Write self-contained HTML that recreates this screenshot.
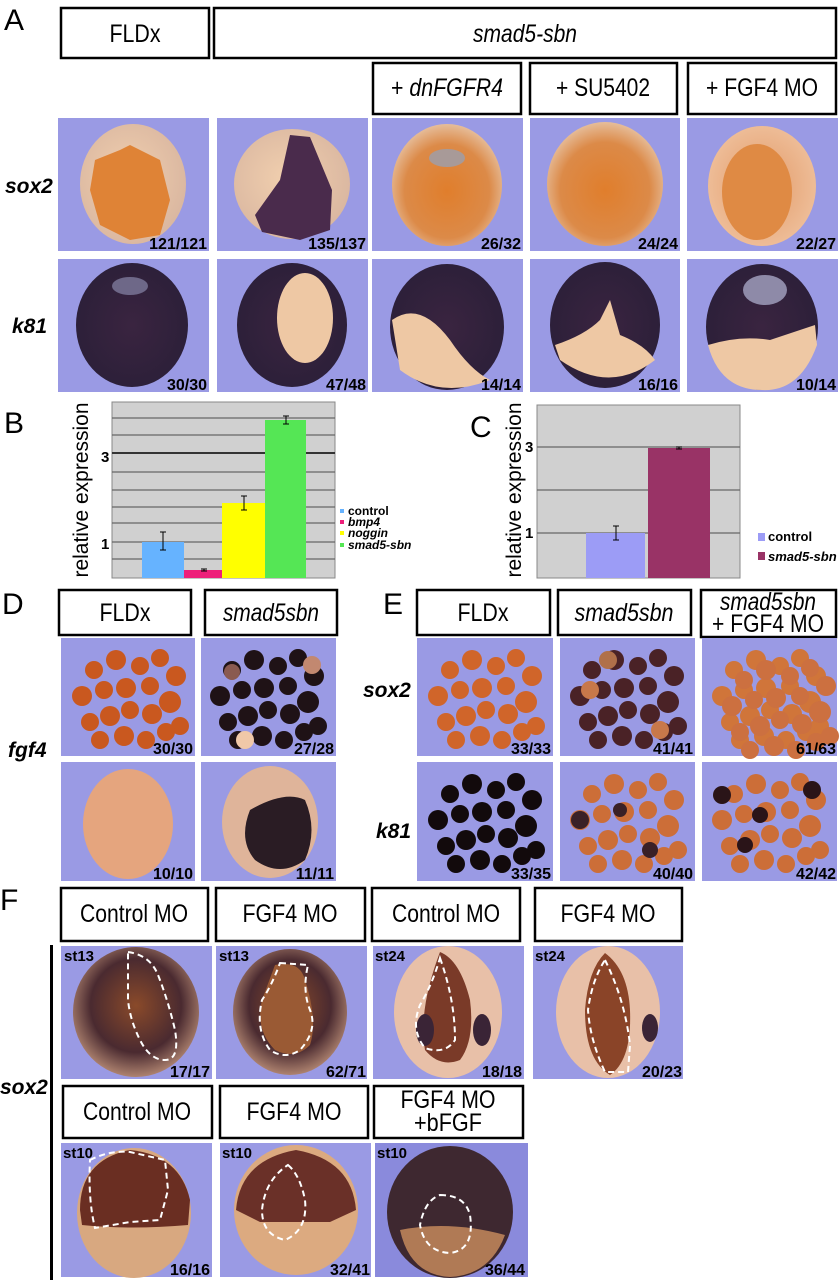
<!DOCTYPE html>
<html><head><meta charset="utf-8"><style>
html,body{margin:0;padding:0;background:#fff;}
svg{display:block;}
text{font-family:"Liberation Sans",sans-serif;fill:#000;}
.bx{fill:#fff;stroke:#000;stroke-width:2.5;}
.bt{font-size:25px;text-anchor:middle;}
.ph{fill:#9a9ae4;}
.ct{font-size:16px;font-weight:bold;text-anchor:end;}
.gn{font-size:21px;font-weight:bold;font-style:italic;}
.pl{font-family:"Liberation Sans",sans-serif;font-size:30px;}
.st{font-size:15px;font-weight:bold;}
.gl{stroke:#666;stroke-width:1.2;}
.eb{stroke:#000;stroke-width:1;fill:none;}
.dash{fill:none;stroke:#fff;stroke-width:2;stroke-dasharray:6 4;}
</style></head><body>
<svg width="840" height="1280" viewBox="0 0 840 1280" xmlns="http://www.w3.org/2000/svg">
<defs>
<radialGradient id="gOr" cx="0.5" cy="0.55" r="0.55"><stop offset="0" stop-color="#e07e2c"/><stop offset="0.7" stop-color="#dc8a48"/><stop offset="1" stop-color="#e6bd9a"/></radialGradient>
<radialGradient id="gTan" cx="0.45" cy="0.45" r="0.6"><stop offset="0" stop-color="#f1cfae"/><stop offset="1" stop-color="#d9b6a0"/></radialGradient>
<radialGradient id="gDk" cx="0.5" cy="0.5" r="0.6"><stop offset="0" stop-color="#3a2440"/><stop offset="1" stop-color="#2a1f38"/></radialGradient>
<radialGradient id="gBr" cx="0.5" cy="0.45" r="0.6"><stop offset="0" stop-color="#8a4a2a"/><stop offset="0.6" stop-color="#4a2a30"/><stop offset="1" stop-color="#c89a80"/></radialGradient>
<radialGradient id="gPe" cx="0.5" cy="0.5" r="0.6"><stop offset="0" stop-color="#e29a68"/><stop offset="1" stop-color="#f0c3a0"/></radialGradient>
<g id="cl">
<circle cx="30" cy="30" r="9"/><circle cx="52" cy="20" r="10"/><circle cx="76" cy="26" r="9"/><circle cx="96" cy="18" r="9"/><circle cx="112" cy="36" r="10"/><circle cx="18" cy="56" r="10"/><circle cx="40" cy="50" r="9"/><circle cx="62" cy="48" r="10"/><circle cx="86" cy="46" r="9"/><circle cx="106" cy="62" r="11"/><circle cx="26" cy="82" r="9"/><circle cx="46" cy="76" r="10"/><circle cx="66" cy="70" r="9"/><circle cx="88" cy="74" r="10"/><circle cx="116" cy="86" r="9"/><circle cx="36" cy="100" r="9"/><circle cx="60" cy="96" r="10"/><circle cx="82" cy="100" r="9"/><circle cx="102" cy="92" r="9"/>
</g>
</defs>

<!-- Panel A -->
<text x="4" y="30" class="pl">A</text>
<rect x="61" y="8" width="148" height="50" class="bx"/><text x="135" y="42" class="bt" textLength="51" lengthAdjust="spacingAndGlyphs">FLDx</text>
<rect x="214" y="8" width="622" height="50" class="bx"/><text x="525" y="42" class="bt" font-style="italic" textLength="104" lengthAdjust="spacingAndGlyphs">smad5-sbn</text>
<rect x="373" y="63" width="148" height="51" class="bx"/><text x="447" y="96" class="bt" textLength="112" lengthAdjust="spacingAndGlyphs">+ <tspan font-style="italic">dnFGFR4</tspan></text>
<rect x="530" y="63" width="147" height="51" class="bx"/><text x="603" y="96" class="bt" textLength="94" lengthAdjust="spacingAndGlyphs">+ SU5402</text>
<rect x="688" y="63" width="148" height="51" class="bx"/><text x="762" y="96" class="bt" textLength="112" lengthAdjust="spacingAndGlyphs">+ FGF4 MO</text>
<text x="5" y="193" class="gn">sox2</text>
<text x="12" y="333" class="gn">k81</text>

<!-- row1 -->
<rect x="58" y="118" width="151" height="133" class="ph"/>
<ellipse cx="133" cy="184" rx="53" ry="60" fill="url(#gTan)"/>
<path d="M95,160 L120,150 L130,145 L160,160 L170,200 L160,235 L130,240 L100,225 L90,190Z" fill="#df8336"/>
<rect x="217" y="118" width="151" height="133" class="ph"/>
<ellipse cx="292" cy="184" rx="58" ry="55" fill="url(#gTan)"/>
<path d="M290,135 L310,137 L332,190 L330,230 L300,240 L262,232 L255,215 L280,180Z" fill="#4a2b4c"/>
<rect x="372" y="118" width="151" height="133" class="ph"/>
<ellipse cx="447" cy="185" rx="55" ry="61" fill="url(#gOr)"/>
<ellipse cx="447" cy="158" rx="18" ry="9" fill="#a89a98"/>
<rect x="530" y="118" width="150" height="133" class="ph"/>
<ellipse cx="605" cy="184" rx="58" ry="62" fill="url(#gOr)"/>
<rect x="687" y="118" width="151" height="133" class="ph"/>
<ellipse cx="762" cy="186" rx="54" ry="60" fill="url(#gPe)"/>
<ellipse cx="757" cy="192" rx="35" ry="48" fill="#df8a44"/>
<text x="207" y="249" class="ct">121/121</text><text x="366" y="249" class="ct">135/137</text><text x="521" y="249" class="ct">26/32</text><text x="678" y="249" class="ct">24/24</text><text x="836" y="249" class="ct">22/27</text>

<!-- row2 -->
<rect x="58" y="259" width="151" height="133" class="ph"/>
<ellipse cx="132" cy="325" rx="56" ry="62" fill="url(#gDk)"/>
<ellipse cx="130" cy="286" rx="18" ry="9" fill="#6e6888"/>
<rect x="217" y="259" width="151" height="133" class="ph"/>
<ellipse cx="292" cy="325" rx="55" ry="62" fill="url(#gDk)"/>
<ellipse cx="305" cy="318" rx="28" ry="45" fill="#eec8a4"/>
<rect x="372" y="259" width="151" height="133" class="ph"/>
<ellipse cx="447" cy="327" rx="57" ry="63" fill="url(#gDk)"/>
<path d="M392,320 Q420,300 450,340 Q470,370 490,380 Q440,400 400,370Z" fill="#eec8a4"/>
<rect x="530" y="259" width="150" height="133" class="ph"/>
<ellipse cx="605" cy="325" rx="55" ry="63" fill="url(#gDk)"/>
<path d="M555,345 Q585,335 600,320 L610,300 L620,335 Q645,345 655,360 Q610,395 560,360Z" fill="#eec8a4"/>
<rect x="687" y="259" width="151" height="133" class="ph"/>
<ellipse cx="762" cy="327" rx="56" ry="63" fill="url(#gDk)"/>
<path d="M708,345 Q740,335 770,340 L815,325 L817,345 Q800,392 762,390 Q720,390 708,345Z" fill="#eec8a4"/>
<ellipse cx="765" cy="290" rx="22" ry="15" fill="#8e8aa8"/>
<text x="207" y="390" class="ct">30/30</text><text x="366" y="390" class="ct">47/48</text><text x="521" y="390" class="ct">14/14</text><text x="678" y="390" class="ct">16/16</text><text x="836" y="390" class="ct">10/14</text>

<!-- Panel B -->
<text x="4" y="433" class="pl">B</text>
<rect x="112" y="402" width="223" height="176" fill="#d0d0d0" stroke="#888"/>
<g class="gl"><line x1="112" y1="418" x2="335" y2="418"/><line x1="112" y1="435" x2="335" y2="435"/><line x1="112" y1="472" x2="335" y2="472"/><line x1="112" y1="490" x2="335" y2="490"/><line x1="112" y1="507" x2="335" y2="507"/><line x1="112" y1="523" x2="335" y2="523"/><line x1="112" y1="542" x2="335" y2="542"/><line x1="112" y1="559" x2="335" y2="559"/></g>
<line x1="112" y1="453" x2="335" y2="453" stroke="#333" stroke-width="2"/>
<rect x="142" y="542" width="42" height="36" fill="#66b3ff"/>
<rect x="184" y="570" width="38" height="8" fill="#ee1f7a"/>
<rect x="222" y="503" width="43" height="75" fill="#ffff00"/>
<rect x="265" y="420" width="41" height="158" fill="#55e655"/>
<g class="eb"><path d="M163,532 V550 M160,532 h6 M160,550 h6"/><path d="M204,569 V571 M201,569 h6 M201,571 h6"/><path d="M244,496 V510 M241,496 h6 M241,510 h6"/><path d="M286,416 V424 M283,416 h6 M283,424 h6"/></g>
<text x="101" y="462" font-size="15" font-weight="bold">3</text>
<text x="101" y="549" font-size="15" font-weight="bold">1</text>
<text transform="translate(88,490) rotate(-90)" font-size="21" text-anchor="middle" fill="#222">relative expression</text>
<rect x="340" y="509" width="4" height="4" fill="#66b3ff"/><rect x="340" y="520" width="4" height="4" fill="#ee1f7a"/><rect x="340" y="531" width="4" height="4" fill="#ffff00"/><rect x="340" y="543" width="4" height="4" fill="#55e655"/>
<g font-size="12" font-weight="bold"><text x="348" y="515">control</text><text x="348" y="526" font-style="italic">bmp4</text><text x="348" y="537" font-style="italic">noggin</text><text x="348" y="549" font-style="italic">smad5-sbn</text></g>

<!-- Panel C -->
<text x="470" y="437" class="pl">C</text>
<rect x="537" y="405" width="203" height="173" fill="#d0d0d0" stroke="#888"/>
<g class="gl"><line x1="537" y1="447" x2="740" y2="447"/><line x1="537" y1="490" x2="740" y2="490"/><line x1="537" y1="533" x2="740" y2="533"/></g>
<rect x="586" y="533" width="59" height="45" fill="#9c9cf6"/>
<rect x="648" y="448" width="62" height="130" fill="#993366"/>
<g class="eb"><path d="M616,526 V540 M613,526 h6 M613,540 h6"/><path d="M679,447 V449 M676,447 h6 M676,449 h6"/></g>
<text x="525" y="452" font-size="15" font-weight="bold">3</text>
<text x="525" y="538" font-size="15" font-weight="bold">1</text>
<text transform="translate(521,490) rotate(-90)" font-size="21" text-anchor="middle" fill="#222">relative expression</text>
<rect x="758" y="533" width="7" height="8" fill="#9c9cf6"/><rect x="758" y="552" width="7" height="8" fill="#993366"/>
<g font-size="13" font-weight="bold"><text x="768" y="541">control</text><text x="768" y="561" font-style="italic">smad5-sbn</text></g>

<!-- Panel D -->
<text x="2" y="614" class="pl">D</text>
<rect x="59" y="590" width="132" height="45" class="bx"/><text x="125" y="621" class="bt" textLength="51" lengthAdjust="spacingAndGlyphs">FLDx</text>
<rect x="205" y="590" width="132" height="45" class="bx"/><text x="271" y="621" class="bt" font-style="italic" textLength="96" lengthAdjust="spacingAndGlyphs">smad5sbn</text>
<text x="8" y="757" class="gn">fgf4</text>
<rect x="61" y="638" width="134" height="118" class="ph"/>
<use href="#cl" x="64" y="640" fill="#c9581f"/>
<rect x="201" y="638" width="135" height="118" class="ph"/>
<use href="#cl" x="202" y="640" fill="#1f1216"/>
<circle cx="245" cy="740" r="9" fill="#f0c8a8"/><circle cx="232" cy="672" r="8" fill="#8a5a50"/><circle cx="312" cy="665" r="9" fill="#c28870"/>
<text x="193" y="754" class="ct">30/30</text><text x="334" y="754" class="ct">27/28</text>
<rect x="61" y="762" width="134" height="119" class="ph"/>
<ellipse cx="128" cy="824" rx="45" ry="55" fill="#e5a57e"/>
<rect x="201" y="762" width="135" height="119" class="ph"/>
<ellipse cx="270" cy="822" rx="48" ry="56" fill="#dfb49a"/>
<path d="M250,810 Q285,790 305,800 Q318,830 305,860 Q280,878 255,860 Q238,840 250,810Z" fill="#2a1c24"/>
<text x="193" y="879" class="ct">10/10</text><text x="334" y="879" class="ct">11/11</text>

<!-- Panel E -->
<text x="383" y="614" class="pl">E</text>
<rect x="417" y="590" width="133" height="45" class="bx"/><text x="483" y="621" class="bt" textLength="51" lengthAdjust="spacingAndGlyphs">FLDx</text>
<rect x="558" y="590" width="133" height="45" class="bx"/><text x="624" y="621" class="bt" font-style="italic" textLength="99" lengthAdjust="spacingAndGlyphs">smad5sbn</text>
<rect x="701" y="590" width="135" height="47" class="bx"/><text x="768" y="610" class="bt" font-style="italic" textLength="96" lengthAdjust="spacingAndGlyphs">smad5sbn</text><text x="768" y="632" class="bt" textLength="112" lengthAdjust="spacingAndGlyphs">+ FGF4 MO</text>
<text x="363" y="697" class="gn">sox2</text>
<text x="376" y="838" class="gn">k81</text>
<rect x="417" y="638" width="136" height="118" class="ph"/>
<use href="#cl" x="420" y="640" fill="#d0652a"/>
<rect x="560" y="638" width="135" height="118" class="ph"/>
<use href="#cl" x="562" y="640" fill="#4a2226"/>
<circle cx="590" cy="690" r="9" fill="#c8784a"/><circle cx="660" cy="730" r="9" fill="#c8784a"/><circle cx="608" cy="660" r="9" fill="#b0704a"/>
<rect x="702" y="638" width="135" height="118" class="ph"/>
<use href="#cl" x="704" y="640" fill="#d0753a"/>
<use href="#cl" x="714" y="650" fill="#cc7040"/>
<text x="551" y="754" class="ct">33/33</text><text x="693" y="754" class="ct">41/41</text><text x="836" y="754" class="ct">61/63</text>
<rect x="417" y="762" width="136" height="119" class="ph"/>
<use href="#cl" x="420" y="764" fill="#120a0c"/>
<rect x="560" y="762" width="135" height="119" class="ph"/>
<use href="#cl" x="562" y="764" fill="#cc6e38"/>
<circle cx="580" cy="820" r="9" fill="#3a2026"/><circle cx="620" cy="810" r="7" fill="#3a2026"/><circle cx="650" cy="850" r="8" fill="#3a2026"/>
<rect x="702" y="762" width="135" height="119" class="ph"/>
<use href="#cl" x="704" y="764" fill="#cc6e38"/>
<circle cx="722" cy="795" r="9" fill="#2a1418"/><circle cx="760" cy="815" r="8" fill="#2a1418"/><circle cx="812" cy="790" r="9" fill="#2a1418"/><circle cx="745" cy="845" r="8" fill="#2a1418"/>
<text x="551" y="879" class="ct">33/35</text><text x="693" y="879" class="ct">40/40</text><text x="836" y="879" class="ct">42/42</text>

<!-- Panel F -->
<text x="0" y="910" class="pl">F</text>
<rect x="61" y="888" width="147" height="53" class="bx"/><text x="134" y="922" class="bt" textLength="108" lengthAdjust="spacingAndGlyphs">Control MO</text>
<rect x="216" y="888" width="149" height="53" class="bx"/><text x="290" y="922" class="bt" textLength="95" lengthAdjust="spacingAndGlyphs">FGF4 MO</text>
<rect x="372" y="888" width="148" height="53" class="bx"/><text x="446" y="922" class="bt" textLength="108" lengthAdjust="spacingAndGlyphs">Control MO</text>
<rect x="535" y="888" width="147" height="53" class="bx"/><text x="608" y="922" class="bt" textLength="95" lengthAdjust="spacingAndGlyphs">FGF4 MO</text>
<rect x="50" y="945" width="3" height="335" fill="#000"/>
<text x="0" y="1094" class="gn">sox2</text>

<rect x="61" y="946" width="151" height="133" class="ph"/>
<ellipse cx="136" cy="1012" rx="63" ry="65" fill="url(#gBr)"/>
<path class="dash" d="M128,952 Q150,955 158,975 Q168,1000 175,1030 Q180,1060 165,1060 Q150,1060 140,1040 Q130,1020 128,1000Z"/>
<rect x="216" y="946" width="151" height="133" class="ph"/>
<ellipse cx="290" cy="1012" rx="57" ry="63" fill="url(#gBr)"/>
<path d="M275,965 Q300,960 305,980 Q318,1020 310,1045 Q295,1060 275,1050 Q255,1030 262,1000Z" fill="#9a5a34"/>
<path class="dash" d="M280,963 L308,965 Q302,990 310,1010 Q318,1030 300,1050 Q285,1060 270,1050 Q255,1030 262,1000 Q272,985 280,963Z"/>
<rect x="373" y="946" width="151" height="133" class="ph"/>
<ellipse cx="448" cy="1012" rx="54" ry="66" fill="#e8c0a8"/>
<path d="M440,952 Q460,960 470,1000 Q475,1040 460,1060 Q440,1068 425,1050 Q418,1010 440,952Z" fill="#7a3a28"/>
<ellipse cx="425" cy="1030" rx="9" ry="16" fill="#3a2436"/><ellipse cx="482" cy="1030" rx="9" ry="16" fill="#3a2436"/>
<path class="dash" d="M440,958 Q455,1000 455,1040 Q445,1055 425,1048 Q410,1030 420,1005 Q432,985 440,958Z"/>
<rect x="533" y="946" width="150" height="133" class="ph"/>
<ellipse cx="608" cy="1012" rx="52" ry="66" fill="#e8c0a8"/>
<path d="M605,953 Q628,970 630,1010 Q632,1060 610,1075 Q585,1060 585,1010 Q588,970 605,953Z" fill="#8a4428"/>
<ellipse cx="650" cy="1028" rx="8" ry="14" fill="#3a2436"/>
<path class="dash" d="M605,960 Q625,1000 630,1045 L628,1072 L605,1072 Q590,1040 588,1010 Q592,980 605,960Z"/>
<g class="st"><text x="64" y="961">st13</text><text x="219" y="961">st13</text><text x="375" y="961">st24</text><text x="535" y="961">st24</text></g>
<text x="210" y="1077" class="ct">17/17</text><text x="366" y="1077" class="ct">62/71</text><text x="522" y="1077" class="ct">18/18</text><text x="682" y="1077" class="ct">20/23</text>

<rect x="63" y="1086" width="149" height="52" class="bx"/><text x="137" y="1120" class="bt" textLength="108" lengthAdjust="spacingAndGlyphs">Control MO</text>
<rect x="220" y="1086" width="148" height="52" class="bx"/><text x="294" y="1120" class="bt" textLength="95" lengthAdjust="spacingAndGlyphs">FGF4 MO</text>
<rect x="374" y="1086" width="149" height="52" class="bx"/><text x="448" y="1108" class="bt" textLength="95" lengthAdjust="spacingAndGlyphs">FGF4 MO</text><text x="448" y="1131" class="bt" textLength="68" lengthAdjust="spacingAndGlyphs">+bFGF</text>

<rect x="61" y="1143" width="151" height="134" class="ph"/>
<ellipse cx="134" cy="1213" rx="57" ry="65" fill="#d8a880"/>
<path d="M80,1210 Q80,1160 130,1150 Q180,1155 190,1200 L188,1225 Q130,1230 82,1225Z" fill="#6a2e22"/>
<path class="dash" d="M90,1160 Q110,1150 130,1152 L165,1160 L168,1190 L160,1220 L130,1222 L95,1228 Q88,1200 90,1160Z"/>
<rect x="220" y="1143" width="151" height="134" class="ph"/>
<ellipse cx="296" cy="1210" rx="62" ry="65" fill="#dcaa80"/>
<path d="M236,1210 Q240,1160 296,1150 Q352,1160 356,1210 L330,1222 L260,1222Z" fill="#6a3028"/>
<path class="dash" d="M288,1165 Q300,1175 305,1200 Q308,1230 285,1240 Q262,1235 262,1210 Q265,1180 288,1165Z"/>
<rect x="375" y="1143" width="153" height="134" fill="#8a8adc"/>
<ellipse cx="450" cy="1212" rx="63" ry="66" fill="#3e2830"/>
<path d="M400,1230 Q450,1220 505,1235 Q490,1275 450,1277 Q410,1275 400,1230Z" fill="#b07a55"/>
<path class="dash" d="M440,1195 Q465,1195 470,1215 Q475,1250 450,1253 Q425,1252 420,1225 Q425,1200 440,1195Z"/>
<g class="st"><text x="63" y="1158">st10</text><text x="222" y="1158">st10</text><text x="377" y="1158">st10</text></g>
<text x="210" y="1275" class="ct">16/16</text><text x="370" y="1275" class="ct">32/41</text><text x="525" y="1275" class="ct">36/44</text>
</svg>
</body></html>
